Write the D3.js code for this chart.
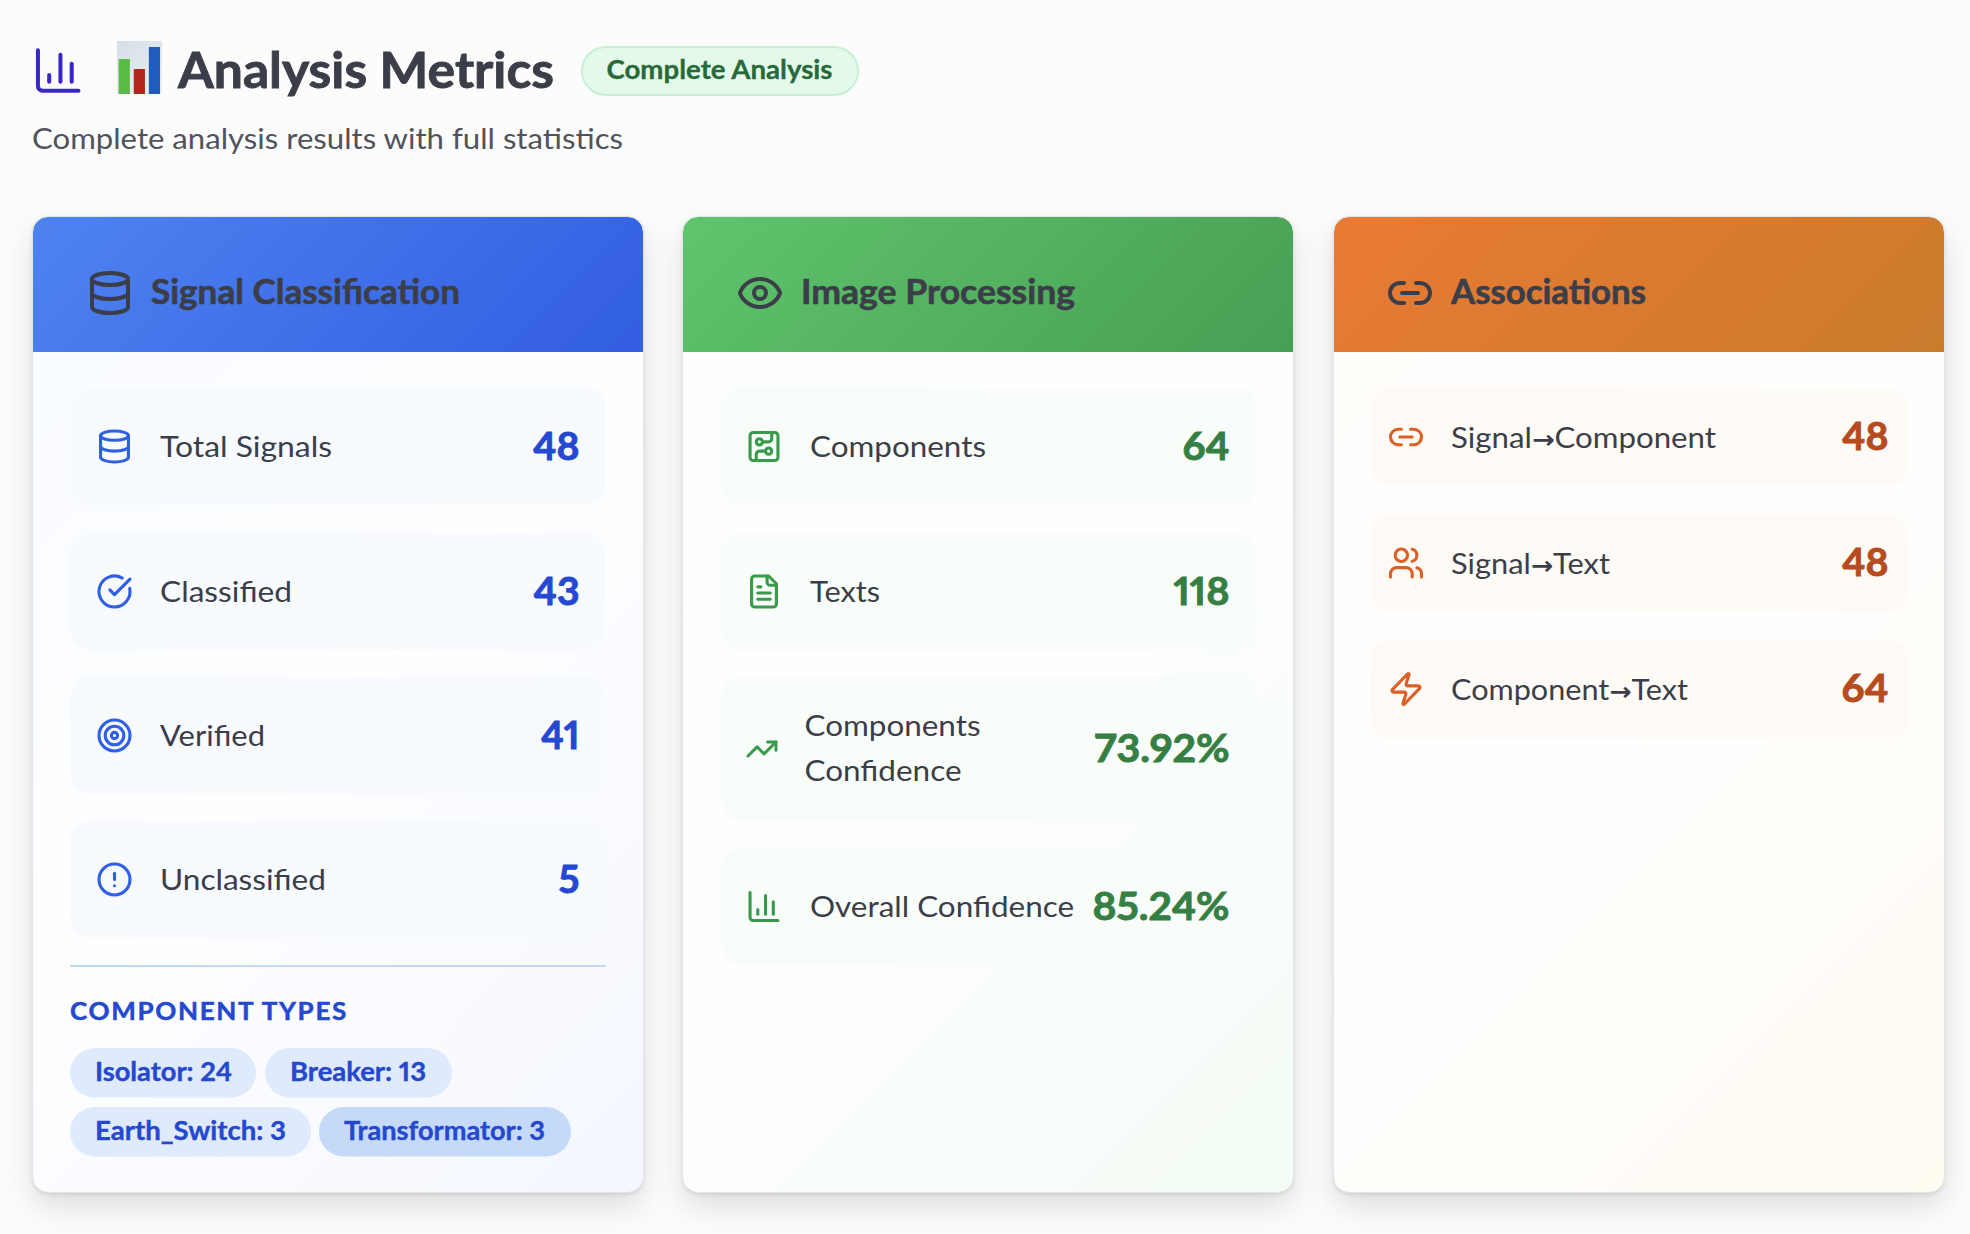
<!DOCTYPE html>
<html>
<head>
<meta charset="utf-8">
<title>Analysis Metrics</title>
<script src="https://cdn.jsdelivr.net/npm/d3@7"></script>
<style>
  html, body { margin: 0; padding: 0; background: #fcfcfc; }
  svg { display: block; }
  text { font-family: Lato, "Open Sans", sans-serif; font-variant-numeric: proportional-nums; }
</style>
</head>
<body>
<div id="chart"></div>
<script>
// Values
const signalLabels = ["Total Signals", "Classified", "Verified", "Unclassified"];
const signalValues = [48, 43, 41, 5];
const signalIcons = ["database", "check", "target", "alert"];

const imageLabels = ["Components", "Texts", "Components Confidence", "Overall Confidence"];
const imageValues = [64, 118, 73.92, 85.24];
const imageIcons = ["circuit", "file", "trend", "bars"];

const assocLabels = ["Signal→Component", "Signal→Text", "Component→Text"];
const assocValues = [48, 48, 64];
const assocIcons = ["link", "users", "zap"];

const componentTypes = ["Isolator", "Breaker", "Earth_Switch", "Transformator"];
const componentCounts = [24, 13, 3, 3];

const emojiBarValues = [35, 25, 47];

// Lucide style icon outlines on a 24 unit grid
const iconMarkup = {
    database: '<ellipse cx="12" cy="5" rx="9" ry="3"/><path d="M3 5V19A9 3 0 0 0 21 19V5"/><path d="M3 12A9 3 0 0 0 21 12"/>',
    eye: '<path d="M2.062 12.348a1 1 0 0 1 0-.696 10.75 10.75 0 0 1 19.876 0 1 1 0 0 1 0 .696 10.75 10.75 0 0 1-19.876 0"/><circle cx="12" cy="12" r="3"/>',
    link: '<path d="M9 17H7A5 5 0 0 1 7 7h2"/><path d="M15 7h2a5 5 0 1 1 0 10h-2"/><line x1="8" x2="16" y1="12" y2="12"/>',
    check: '<path d="M21.801 10A10 10 0 1 1 17 3.335"/><path d="m9 11 3 3L22 4"/>',
    target: '<circle cx="12" cy="12" r="10"/><circle cx="12" cy="12" r="6"/><circle cx="12" cy="12" r="2"/>',
    alert: '<circle cx="12" cy="12" r="10"/><line x1="12" x2="12" y1="8" y2="12"/><line x1="12" x2="12.01" y1="16" y2="16"/>',
    circuit: '<rect x="3" y="3" width="18" height="18" rx="2"/><path d="M11 9h4a2 2 0 0 0 2-2V3"/><circle cx="9" cy="9" r="2"/><path d="M7 21v-4a2 2 0 0 1 2-2h4"/><circle cx="15" cy="15" r="2"/>',
    file: '<path d="M15 2H6a2 2 0 0 0-2 2v16a2 2 0 0 0 2 2h12a2 2 0 0 0 2-2V7Z"/><path d="M14 2v4a2 2 0 0 0 2 2h4"/><path d="M10 9H8"/><path d="M16 13H8"/><path d="M16 17H8"/>',
    trend: '<polyline points="22 7 13.5 15.5 8.5 10.5 2 17"/><polyline points="16 7 22 7 22 13"/>',
    bars: '<path d="M3 3v16a2 2 0 0 0 2 2h16"/><path d="M18 17V9"/><path d="M13 17V5"/><path d="M8 17v-3"/>',
    users: '<path d="M16 21v-2a4 4 0 0 0-4-4H6a4 4 0 0 0-4 4v2"/><path d="M16 3.128a4 4 0 0 1 0 7.744"/><path d="M22 21v-2a4 4 0 0 0-3-3.87"/><circle cx="9" cy="7" r="4"/>',
    zap: '<path d="M4 14a1 1 0 0 1-.78-1.63l9.9-10.2a.5.5 0 0 1 .86.46l-1.92 6.02A1 1 0 0 0 13 10h7a1 1 0 0 1 .78 1.63l-9.9 10.2a.5.5 0 0 1-.86-.46l1.92-6.02A1 1 0 0 0 11 14z"/>'
};

// Measured text widths so the substitute font lands on the same extents
const textWidths = {
    "Analysis Metrics": 376, "Complete Analysis": 226, "Complete analysis results with full statistics": 591,
    "Signal Classification": 309, "Image Processing": 274, "Associations": 195,
    "Total Signals": 172, "Classified": 132, "Verified": 105, "Unclassified": 166,
    "Components": 176, "Texts": 70, "Overall Confidence": 264,
    "Signal→Component": 265, "Signal→Text": 159, "Component→Text": 237,
    "COMPONENT TYPES": 278, "Isolator: 24": 137, "Breaker: 13": 136, "Earth_Switch: 3": 191, "Transformator: 3": 201
};
const valueWidths = { "48": 46.5, "43": 46, "41": 38.5, "5": 21, "64": 47, "118": 56, "73.92%": 135, "85.24%": 137 };

const width = 1970, height = 1234;
const cardTop = 217, cardBottom = 1192, headerBottom = 352, cardWidth = 610;
const textDark = "#3b3e48";

const cards = [
    {
        id: "signal", title: "Signal Classification", icon: "database", x: 33, iconX: 110, titleX: 151,
        head: ["#4f83f0", "#325de1"], body: ["#f8fbff", "#fefeff", "#f4f7ff"], rowFill: "#f7faff",
        iconColor: "#2f5fe3", valueColor: "#2548d0",
        labels: signalLabels, values: signalValues, icons: signalIcons,
        rowX: 70, rowW: 536, rowTops: [388, 533, 677, 821], rowH: 117,
        iconCx: 114.5, labelX: 160, valueR: 579.5
    },
    {
        id: "image", title: "Image Processing", icon: "eye", x: 683, iconX: 760, titleX: 801,
        head: ["#60c46d", "#479f53"], body: ["#fbfefb", "#fefefe", "#f3fcf5"], rowFill: "#f9fdfa",
        iconColor: "#3a9a4c", valueColor: "#357f43",
        labels: imageLabels, values: imageValues, icons: imageIcons,
        rowX: 721, rowW: 536, rowTops: [388, 533, 677, 848], rowH: 117, rowHs: [117, 117, 144, 117],
        iconCx: 764, labelX: 810, valueR: 1229.5
    },
    {
        id: "assoc", title: "Associations", icon: "link", x: 1334, iconX: 1410, titleX: 1451,
        head: ["#ea7a36", "#c97b2c"], body: ["#fffdfa", "#fefefe", "#fffbf1"], rowFill: "#fefbf7",
        iconColor: "#dc5f25", valueColor: "#b74b20",
        labels: assocLabels, values: assocValues, icons: assocIcons,
        rowX: 1370, rowW: 538, rowTops: [388, 514, 640], rowH: 98,
        iconCx: 1406, labelX: 1451, valueR: 1888.5
    }
];

const svg = d3.select("#chart").append("svg")
    .attr("width", width)
    .attr("height", height)
    .attr("viewBox", `0 0 ${width} ${height}`);
const defs = svg.append("defs");

// Same geometry as a css 135deg gradient on the given box
function addGradient(id, x, y, w, h, colors) {
    const half = (w + h) / 4;
    const cx = x + w / 2, cy = y + h / 2;
    const grad = defs.append("linearGradient")
        .attr("id", id)
        .attr("gradientUnits", "userSpaceOnUse")
        .attr("x1", cx - half).attr("y1", cy - half)
        .attr("x2", cx + half).attr("y2", cy + half);
    colors.forEach((c, i) => {
        grad.append("stop")
            .attr("offset", i / (colors.length - 1))
            .attr("stop-color", c);
    });
}

function addShadow(id, dy, blur, opacity) {
    defs.append("filter")
        .attr("id", id)
        .attr("x", "-15%").attr("y", "-10%")
        .attr("width", "130%").attr("height", "125%")
        .append("feDropShadow")
        .attr("dx", 0).attr("dy", dy)
        .attr("stdDeviation", blur)
        .attr("flood-color", "#000")
        .attr("flood-opacity", opacity);
}
addShadow("shadow-soft", 14, 15, 0.12);
addShadow("shadow-tight", 2, 2, 0.12);

// Text helper: keeps extents equal to the measured ones
function addText(parent, str, x, y, size, weight, color, anchor, measured, thicken) {
    const t = parent.append("text")
        .attr("x", x).attr("y", y)
        .attr("font-size", size)
        .attr("font-weight", weight)
        .attr("fill", color)
        .attr("text-anchor", anchor || "start");

    // The arrow is a short heavy glyph in the reference
    if (str.includes("→")) {
        const parts = str.split("→");
        t.append("tspan").text(parts[0]);
        t.append("tspan")
            .attr("font-family", "DejaVu Sans")
            .attr("font-weight", 700)
            .attr("font-size", 25)
            .text("→");
        t.append("tspan").text(parts[1]);
    } else {
        t.text(str);
    }

    const w = measured || textWidths[str];
    if (w) t.attr("textLength", w).attr("lengthAdjust", "spacingAndGlyphs");
    if (thicken) t.attr("stroke", color).attr("stroke-width", thicken);
    return t;
}

function addIcon(parent, name, cx, cy, scale, color, strokeW) {
    parent.append("g")
        .attr("transform", `translate(${cx},${cy}) scale(${scale}) translate(-12,-12)`)
        .attr("fill", "none")
        .attr("stroke", color)
        .attr("stroke-width", strokeW)
        .attr("stroke-linecap", "round")
        .attr("stroke-linejoin", "round")
        .html(iconMarkup[name]);
}

// Page header
addIcon(svg, "bars", 58.2, 70.5, 2.25, "#3a26d0", 1.8);

const emoji = svg.append("g");
addGradient("emoji-bg", 117, 41, 45, 53, ["#d5dfe8", "#eaeff3"]);
emoji.append("rect")
    .attr("x", 117).attr("y", 41).attr("width", 45).attr("height", 53)
    .attr("fill", "url(#emoji-bg)");
const emojiX = d3.scaleBand().domain(d3.range(3)).range([118.7, 160]).paddingInner(0.26);
const emojiY = d3.scaleLinear().domain([0, 53]).range([94, 41]);
const emojiColors = ["#57bb45", "#b0281a", "#1f5cbb"];
emoji.selectAll("rect.bar")
    .data(emojiBarValues)
    .join("rect")
    .attr("class", "bar")
    .attr("x", (d, i) => emojiX(i))
    .attr("width", emojiX.bandwidth())
    .attr("y", d => emojiY(d))
    .attr("height", d => emojiY(0) - emojiY(d))
    .attr("fill", (d, i) => emojiColors[i]);

addText(svg, "Analysis Metrics", 178, 88, 50, 700, textDark, "start", null, 0.9);

svg.append("rect")
    .attr("x", 582).attr("y", 47).attr("width", 276).attr("height", 48).attr("rx", 24)
    .attr("fill", "#e4f9ea").attr("stroke", "#c6f0d3").attr("stroke-width", 2);
addText(svg, "Complete Analysis", 606.5, 79, 26, 700, "#276a3a", "start", null, 0.3);
addText(svg, "Complete analysis results with full statistics", 32, 149, 29, 400, "#50535c");

// One card per group
const valueFormat = v => Number.isInteger(v) ? String(v) : d3.format(".2f")(v) + "%";

cards.forEach(card => {
    const g = svg.append("g").attr("class", "card-" + card.id);
    const h = cardBottom - cardTop;

    addGradient(card.id + "-head", card.x, cardTop, cardWidth, headerBottom - cardTop, card.head);
    addGradient(card.id + "-body", card.x, cardTop, cardWidth, h, card.body);

    defs.append("clipPath").attr("id", card.id + "-clip")
        .append("rect")
        .attr("x", card.x).attr("y", cardTop)
        .attr("width", cardWidth).attr("height", h).attr("rx", 15);

    ["shadow-soft", "shadow-tight"].forEach(f => {
        g.append("rect")
            .attr("x", card.x).attr("y", cardTop)
            .attr("width", cardWidth).attr("height", h).attr("rx", 15)
            .attr("fill", `url(#${card.id}-body)`)
            .attr("filter", `url(#${f})`);
    });

    g.append("rect")
        .attr("x", card.x).attr("y", cardTop)
        .attr("width", cardWidth).attr("height", headerBottom - cardTop)
        .attr("clip-path", `url(#${card.id}-clip)`)
        .attr("fill", `url(#${card.id}-head)`);

    g.append("rect")
        .attr("x", card.x - 0.5).attr("y", cardTop - 0.5)
        .attr("width", cardWidth + 1).attr("height", h + 1).attr("rx", 15.5)
        .attr("fill", "none").attr("stroke", "#e3e6e9");

    addIcon(g, card.icon, card.iconX, 293, 2, textDark, 2);
    addText(g, card.title, card.titleX, 304, 34, 700, textDark, "start", null, 0.6);

    card.labels.forEach((label, i) => {
        const top = card.rowTops[i];
        const rowH = card.rowHs ? card.rowHs[i] : card.rowH;
        const mid = top + rowH / 2;

        g.append("rect")
            .attr("x", card.rowX).attr("y", top)
            .attr("width", card.rowW).attr("height", rowH).attr("rx", 20)
            .attr("fill", card.rowFill);

        const shown = valueFormat(card.values[i]);
        addText(g, shown, card.valueR, mid + 13, 38, 700, card.valueColor, "end", valueWidths[shown], 0.9);

        if (label === "Components Confidence") {
            // This label wraps in the narrow row, with a smaller icon
            addIcon(g, card.icons[i], 762, mid, 1.4, card.iconColor, 2.1);
            addText(g, "Components", 804.5, mid - 13, 29, 400, textDark, "start", 176);
            addText(g, "Confidence", 804.5, mid + 32, 29, 400, textDark, "start", 157);
        } else {
            addIcon(g, card.icons[i], card.iconCx, mid, 1.55, card.iconColor, 2);
            addText(g, label, card.labelX, mid + 10.5, 29, 400, textDark);
        }
    });
});

// Component type chips in the first card
const signalCard = d3.select(".card-signal");
signalCard.append("line")
    .attr("x1", 70).attr("x2", 606)
    .attr("y1", 966).attr("y2", 966)
    .attr("stroke", "#bfd8fb").attr("stroke-width", 2);
addText(signalCard, "COMPONENT TYPES", 70, 1020, 25, 700, "#2548d0", "start", null, 0.5)
    .attr("letter-spacing", 1.6);

const chipX = [70, 265, 70, 319];
const chipW = [186, 187, 241, 252];
const chipY = [1048, 1048, 1107, 1107];
const chipFill = ["#dfeafc", "#dfeafc", "#dfeafc", "#c5d9f9"];

componentTypes.forEach((name, i) => {
    signalCard.append("rect")
        .attr("x", chipX[i]).attr("y", chipY[i])
        .attr("width", chipW[i]).attr("height", 49.5).attr("rx", 24.75)
        .attr("fill", chipFill[i]);
    addText(signalCard, `${name}: ${componentCounts[i]}`, chipX[i] + 25, chipY[i] + 33, 26, 700, "#2548d0", "start", null, 0.4);
});
</script>
</body>
</html>
